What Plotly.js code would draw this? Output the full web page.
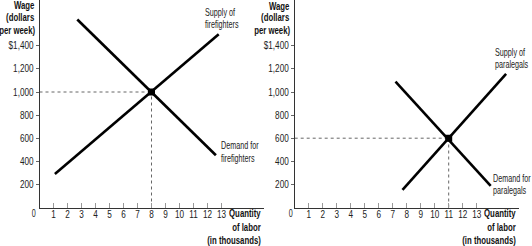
<!DOCTYPE html>
<html><head><meta charset="utf-8">
<script src="https://cdn.plot.ly/plotly-3.0.1.min.js"></script>
<style>html,body{margin:0;padding:0;background:#fff}#chart{width:532px;height:246px}</style>
</head><body><div id="chart"></div>
<script>
// ---- data ----
const xTicks = [1,2,3,4,5,6,7,8,9,10,11,12,13];
const yTicks = [200,400,600,800,1000,1200,1400];
const yTickText = ['200','400','600','800','1,000','1,200','$1,400'];

const ffSupplyQ = [1.1, 12.8];
const ffSupplyW = [290, 1500];
const ffDemandQ = [2.7, 12.6];
const ffDemandW = [1628, 452];
const ffEqQ = [8];
const ffEqW = [1000];

const plSupplyQ = [7.7, 15.1];
const plSupplyW = [152, 1156];
const plDemandQ = [7.2, 14.0];
const plDemandW = [1089, 188];
const plEqQ = [11];
const plEqW = [600];

const FONT = '"Liberation Sans",Arial,Helvetica,sans-serif';
const W = 532, H = 246;
const px = x => x / W, py = y => 1 - y / H;

function guides(q, w, xa, ya) {
  return [
    {x:[0, q[0]], y:[w[0], w[0]], xaxis:xa, yaxis:ya, mode:'lines', line:{color:'#666', width:1, dash:'dot'}, hoverinfo:'skip'},
    {x:[q[0], q[0]], y:[0, w[0]], xaxis:xa, yaxis:ya, mode:'lines', line:{color:'#666', width:1, dash:'dot'}, hoverinfo:'skip'}
  ];
}
function curve(q, w, xa, ya) {
  return {x:q, y:w, xaxis:xa, yaxis:ya, mode:'lines', line:{color:'#000', width:2.6}, hoverinfo:'skip'};
}
function eq(q, w, xa, ya) {
  return {x:q, y:w, xaxis:xa, yaxis:ya, mode:'markers', marker:{symbol:'square', size:7, color:'#000'}, hoverinfo:'skip'};
}

const traces = [
  ...guides(ffEqQ, ffEqW, 'x', 'y'),
  curve(ffSupplyQ, ffSupplyW, 'x', 'y'),
  curve(ffDemandQ, ffDemandW, 'x', 'y'),
  eq(ffEqQ, ffEqW, 'x', 'y'),
  ...guides(plEqQ, plEqW, 'x2', 'y2'),
  curve(plSupplyQ, plSupplyW, 'x2', 'y2'),
  curve(plDemandQ, plDemandW, 'x2', 'y2'),
  eq(plEqQ, plEqW, 'x2', 'y2')
];

const yTop = 207.5 / 0.1155;
function xaxis(domain, anchor) {
  return {domain, anchor, range:[0,16], tickvals:xTicks, ticks:'inside', ticklen:5, tickcolor:'#999', tickwidth:1,
    ticklabelstandoff:-2,
    showline:true, linecolor:'#333', linewidth:1, showgrid:false, zeroline:false,
    tickfont:{family:FONT, size:10, color:'#222'}, fixedrange:true};
}
function yaxis(anchor) {
  return {domain:[py(207.5), 1], anchor, range:[0, yTop], tickvals:yTicks, ticktext:yTickText, ticks:'outside', ticklen:3,
    tickcolor:'#666', tickwidth:1, showline:true, linecolor:'#333', linewidth:1, showgrid:false, zeroline:false,
    tickfont:{family:FONT, size:10, color:'#222'}, fixedrange:true};
}

function label(text, x, y, anchor, opts) {
  return Object.assign({text, x:px(x), y:py(y), xref:'paper', yref:'paper', xanchor:anchor, align:anchor, yanchor:'middle',
    showarrow:false, font:{family:FONT, size:10, color:'#222'}}, opts || {});
}
const bold = {font:{family:FONT, size:10, color:'#111', weight:'bold'}};

const annotations = [
  label('Wage', 36.5, 5.5, 'right', bold),
  label('(dollars', 36.5, 17.5, 'right', bold),
  label('per week)', 36.5, 30, 'right', bold),
  label('Quantity', 263, 213, 'right', bold),
  label('of labor', 263, 227, 'right', bold),
  label('(in thousands)', 263, 240.5, 'right', bold),
  label('0', 33.5, 213, 'center'),
  label('Supply of', 203, 12.5, 'left'),
  label('firefighters', 203, 25, 'left'),
  label('Demand for', 218.5, 145.5, 'left'),
  label('firefighters', 218.5, 158, 'left'),

  label('Wage', 292, 6, 'right', bold),
  label('(dollars', 292, 18, 'right', bold),
  label('per week)', 292, 30.5, 'right', bold),
  label('Quantity', 518, 213, 'right', bold),
  label('of labor', 518, 227, 'right', bold),
  label('(in thousands)', 518, 240.5, 'right', bold),
  label('0', 290.5, 213, 'center'),
  label('Supply of', 492.5, 52.5, 'left'),
  label('paralegals', 492.5, 64, 'left'),
  label('Demand for', 491, 178.5, 'left'),
  label('paralegals', 491, 190, 'left')
];

const layout = {
  width:W, height:H, margin:{l:0, r:0, t:0, b:0}, paper_bgcolor:'#fff', plot_bgcolor:'rgba(0,0,0,0)',
  showlegend:false,
  xaxis: xaxis([px(39.5), px(263.5)], 'y'),
  yaxis: yaxis('x'),
  xaxis2: xaxis([px(294.7), px(518.7)], 'y2'),
  yaxis2: yaxis('x2'),
  annotations
};

// horizontally condense text (reference uses a condensed sans face)
function condense(el, s) {
  const bb = el.getBBox();
  const a = el.getAttribute('text-anchor') || 'start';
  const p = a === 'end' ? bb.x + bb.width : a === 'middle' ? bb.x + bb.width / 2 : bb.x;
  const prev = el.getAttribute('transform') || '';
  el.setAttribute('transform', (prev + ' translate(' + p + ',0) scale(' + s + ',1) translate(' + (-p) + ',0)').trim());
}
Plotly.newPlot('chart', traces, layout, {staticPlot:true, displayModeBar:false}).then(gd => {
  gd.querySelectorAll('.xtick text, .ytick text, .x2tick text, .y2tick text').forEach(t => condense(t, 0.82));
  gd.querySelectorAll('text.annotation-text').forEach(t => {
    const isBold = /bold|700/.test(t.getAttribute('style') || '') || t.style.fontWeight === 'bold' || t.style.fontWeight === '700';
    condense(t, isBold ? 0.78 : 0.72);
  });
});
</script></body></html>
